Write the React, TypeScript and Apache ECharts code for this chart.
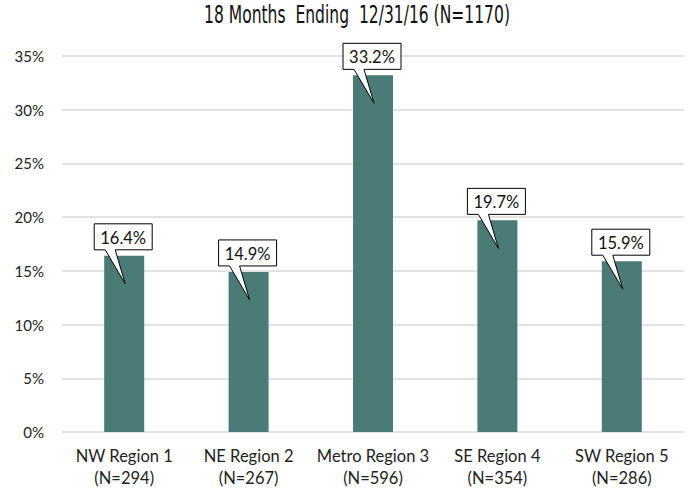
import React, { useEffect, useRef } from "react";
import * as echarts from "echarts";

const categories = ["NW Region 1\n(N=294)", "NE Region 2\n(N=267)", "Metro Region 3\n(N=596)", "SE Region 4\n(N=354)", "SW Region 5\n(N=286)"];
const values = [16.4, 14.9, 33.2, 19.7, 15.9];
const titleText = "18 Months  Ending  12/31/16 (N=1170)";

const BAR = "#4a7b76";
const FONT = "Lato, 'Open Sans', sans-serif";

export default function App() {
  const ref = useRef<HTMLDivElement>(null);
  useEffect(() => {
    if (!ref.current) return;
    const chart = echarts.init(ref.current, undefined, { renderer: "svg" });
    chart.setOption({
      animation: false,
      backgroundColor: "#ffffff",
      graphic: [
        {
          type: "text",
          x: 357,
          y: 3,
          scaleX: 0.72,
          originX: 0,
          style: {
            text: titleText,
            align: "center",
            verticalAlign: "top",
            fontFamily: "'DejaVu Sans Condensed', sans-serif",
            fontSize: 24,
            fill: "#111",
          },
        },
      ],
      grid: { left: 62, right: 5, top: 56, bottom: 57 },
      xAxis: {
        type: "category",
        data: categories,
        axisLine: { show: false },
        axisTick: { show: false },
        axisLabel: { interval: 0, color: "#222", fontFamily: FONT, fontSize: 16.5, lineHeight: 22, margin: 13 },
      },
      yAxis: {
        type: "value",
        min: 0,
        max: 35,
        interval: 5,
        axisLabel: { formatter: "{value}%", color: "#222", fontFamily: FONT, fontSize: 15, margin: 18 },
        splitLine: { lineStyle: { color: "#d9d9d9", width: 1.5 } },
        axisLine: { show: false },
        axisTick: { show: false },
      },
      series: [
        {
          type: "bar",
          data: values,
          barWidth: 40,
          itemStyle: { color: BAR },
        },
        {
          type: "custom",
          data: values.map((v, i) => [i, v]),
          z: 10,
          renderItem: (params: any, api: any) => {
            const p = api.coord([api.value(0), api.value(1)]);
            const cx = p[0];
            const yt = p[1];
            const l = cx - 30, r = cx + 28, b = yt - 6, t = b - 26;
            const pts = [
              [l, t], [r, t], [r, b], [cx - 9, b], [cx + 1, yt + 28], [cx - 19, b], [l, b],
            ];
            return {
              type: "group",
              children: [
                { type: "polygon", shape: { points: pts }, style: { fill: "#fff", stroke: "#000", lineWidth: 1 } },
                {
                  type: "text",
                  style: {
                    text: api.value(1).toFixed(1) + "%",
                    x: (l + r) / 2,
                    y: (t + b) / 2 + 1,
                    align: "center",
                    verticalAlign: "middle",
                    fontFamily: FONT,
                    fontSize: 16.5,
                    fill: "#111",
                  },
                },
              ],
            };
          },
        },
      ],
    });
    return () => chart.dispose();
  }, []);
  return <div ref={ref} style={{ width: 689, height: 489, position: "absolute", left: 0, top: 0 }} />;
}
